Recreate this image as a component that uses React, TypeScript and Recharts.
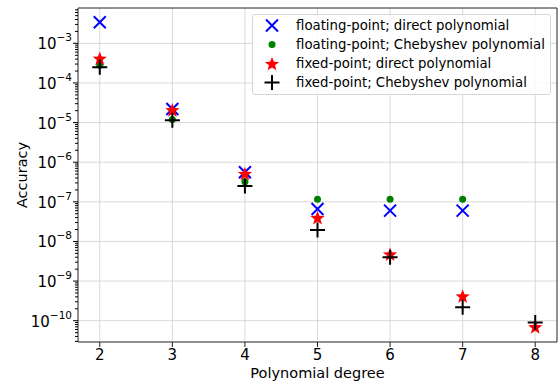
import React from "react";
import { ScatterChart, Scatter, XAxis, YAxis, ReferenceLine, Legend } from "recharts";

// polynomial degree on x, accuracy (log) on y
const degrees = [2, 3, 4, 5, 6, 7, 8];
const floatDirect = [3.4e-3, 2.2e-5, 5.6e-7, 6.6e-8, 6.0e-8, 6.0e-8];
const floatCheb = [2.8e-4, 1.2e-5, 3.2e-7, 1.17e-7, 1.17e-7, 1.17e-7];
const fixedDirect = [4.2e-4, 2.1e-5, 5.2e-7, 4.0e-8, 4.8e-9, 4.2e-10, 7.0e-11];
const fixedCheb = [2.5e-4, 1.15e-5, 2.5e-7, 1.95e-8, 4.0e-9, 2.2e-10, 9.0e-11];

const xTicks = [2, 3, 4, 5, 6, 7, 8];
const majorExp = [-3, -4, -5, -6, -7, -8, -9, -10];
const xDomain = [1.7, 8.3];
const yDomain = [2.9e-11, 7.8e-3];

const minorTicks: number[] = [];
for (let n = -11; n <= -3; n++) {
  for (let k = 2; k <= 9; k++) {
    const v = k * Math.pow(10, n);
    if (v > yDomain[0] && v < yDomain[1]) minorTicks.push(v);
  }
}
const majorTicks = majorExp.map(e => Math.pow(10, e));
const yTicks = [...majorTicks, ...minorTicks];

const pts = (vals: number[]) => vals.map((v, i) => ({ x: degrees[i], y: v }));

const starPath = (cx: number, cy: number, r: number) => {
  let d = "";
  for (let i = 0; i < 10; i++) {
    const rr = i % 2 === 0 ? r : r * 0.42;
    const a = -Math.PI / 2 + (i * Math.PI) / 5;
    d += (i === 0 ? "M" : "L") + (cx + rr * Math.cos(a)).toFixed(2) + "," + (cy + rr * Math.sin(a)).toFixed(2);
  }
  return d + "Z";
};

const XMark = (p: any) => (
  <path d={`M${p.cx - 6},${p.cy - 6}L${p.cx + 6},${p.cy + 6}M${p.cx - 6},${p.cy + 6}L${p.cx + 6},${p.cy - 6}`} stroke="#0000ff" strokeWidth={2} fill="none" />
);
const DotMark = (p: any) => <circle cx={p.cx} cy={p.cy} r={3.5} fill="#008000" />;
const StarMark = (p: any) => <path d={starPath(p.cx, p.cy + 0.8, 7.5)} fill="#ff0000" />;
const PlusMark = (p: any) => (
  <path d={`M${p.cx - 7.5},${p.cy}L${p.cx + 7.5},${p.cy}M${p.cx},${p.cy - 7.5}L${p.cx},${p.cy + 7.5}`} stroke="#000" strokeWidth={2} fill="none" />
);

const legendItems = [
  { name: "floating-point; direct polynomial", shape: XMark },
  { name: "floating-point; Chebyshev polynomial", shape: DotMark },
  { name: "fixed-point; direct polynomial", shape: StarMark },
  { name: "fixed-point; Chebyshev polynomial", shape: PlusMark },
];

const LegendBox = () => (
  <div style={{ background: "rgba(255,255,255,0.85)", border: "1px solid #d6d6d6", borderRadius: 3, padding: "1px 0 2px", width: 297 }}>
    {legendItems.map(it => (
      <div key={it.name} style={{ display: "flex", alignItems: "center", height: 19 }}>
        <svg width={40} height={19} style={{ marginLeft: 3 }}>
          <it.shape cx={16} cy={9.5} />
        </svg>
        <span style={{ fontSize: 13.3, color: "#000" }}>{it.name}</span>
      </div>
    ))}
  </div>
);

const YTick = (props: any) => {
  const { x, y, payload } = props;
  const e = Math.log10(payload.value);
  const major = Math.abs(e - Math.round(e)) < 1e-6;
  return (
    <g>
      <line x1={x} x2={x - (major ? 5 : 3)} y1={y} y2={y} stroke="#000" strokeWidth={major ? 1 : 1} />
      {major && (
        <text x={x - 6} y={y + 6} textAnchor="end" fontSize={15} fill="#000">
          10<tspan dy={-8} fontSize={10.5}>{"\u2212" + Math.abs(Math.round(e))}</tspan>
        </text>
      )}
    </g>
  );
};

export default function App() {
  return (
    <div style={{ position: "fixed", left: 0, top: 0, width: 560, height: 384, background: "#fff", fontFamily: "'DejaVu Sans', sans-serif" }}>
      <ScatterChart width={560} height={384} margin={{ top: 8, right: 3, bottom: 0, left: 0 }}>
        <XAxis
          type="number"
          dataKey="x"
          domain={xDomain}
          ticks={xTicks}
          interval={0}
          allowDataOverflow
          height={42}
          tickSize={5}
          tickMargin={2}
          stroke="#222"
          tick={{ fill: "#000", fontSize: 15 }}
          label={{ value: "Polynomial degree", position: "insideBottom", offset: 6, fill: "#000", fontSize: 14.5 }}
        />
        <YAxis
          type="number"
          dataKey="y"
          scale="log"
          domain={yDomain}
          ticks={yTicks}
          interval={0}
          allowDataOverflow
          width={78}
          tickSize={0}
          tickMargin={0}
          tickLine={false}
          stroke="#222"
          tick={<YTick />}
          label={{ value: "Accuracy", angle: -90, position: "insideLeft", offset: 22, fill: "#000", fontSize: 14.5, style: { textAnchor: "middle" } }}
        />
        {xTicks.map(t => (
          <ReferenceLine key={"gx" + t} x={t} stroke="#cfcfcf" strokeWidth={0.8} />
        ))}
        {majorTicks.map(t => (
          <ReferenceLine key={"gy" + t} y={t} stroke="#cfcfcf" strokeWidth={0.8} />
        ))}
        <ReferenceLine x={xDomain[1]} stroke="#222" />
        <ReferenceLine y={yDomain[1]} stroke="#222" />
        <Legend
          layout="horizontal"
          verticalAlign="middle"
          align="center"
          content={<LegendBox />}
          wrapperStyle={{ position: "absolute", left: 252, top: 14, width: 299 }}
        />
        <Scatter name="floating-point; direct polynomial" data={pts(floatDirect)} shape={XMark} isAnimationActive={false} />
        <Scatter name="floating-point; Chebyshev polynomial" data={pts(floatCheb)} shape={DotMark} isAnimationActive={false} />
        <Scatter name="fixed-point; direct polynomial" data={pts(fixedDirect)} shape={StarMark} isAnimationActive={false} />
        <Scatter name="fixed-point; Chebyshev polynomial" data={pts(fixedCheb)} shape={PlusMark} isAnimationActive={false} />
      </ScatterChart>
    </div>
  );
}
